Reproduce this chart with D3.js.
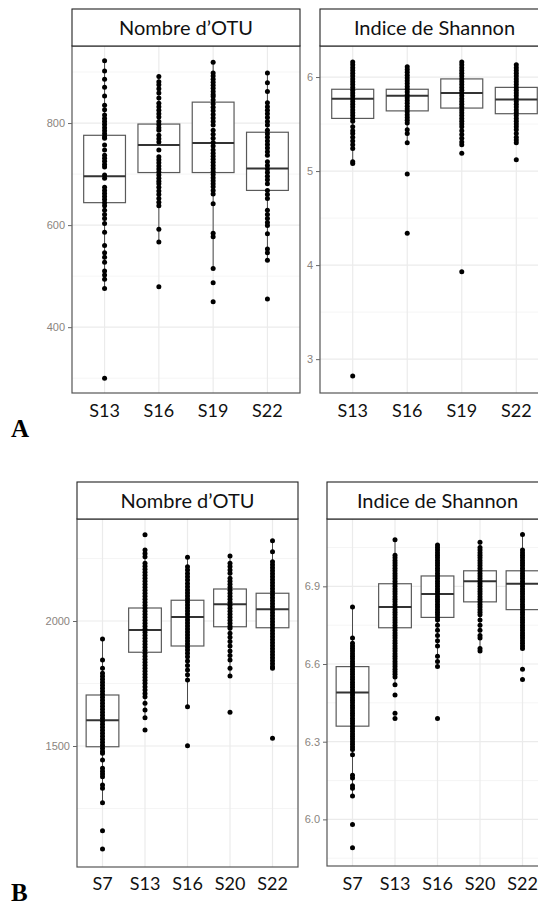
<!DOCTYPE html>
<html><head><meta charset="utf-8">
<script src="https://cdn.jsdelivr.net/npm/d3@7"></script>
<style>body{margin:0;background:#fff}</style>
</head><body>
<svg id="c" width="538" height="908"></svg>
<script>
// ---------- categories & labels ----------
const catsA = ["S13","S16","S19","S22"];
const catsB = ["S7","S13","S16","S20","S22"];
const stripOTU = "Nombre d’OTU";
const stripShannon = "Indice de Shannon";
const panelLetters = ["A","B"];

// ---------- A : Nombre d'OTU ----------
const otuA_ticks = [400,600,800];
const otuA_minor = [300,500,700,900];
const otuA_S13 = [922,902,886,870,853,835,826,816,809,803,797,791,785,779,773,770,757,747,737,731,725,719,714,698,692,674,668,662,656,650,644,638,629,621,613,603,586,560,546,537,527,510,502,494,476,300];
const otuA_S16 = [891,881,875,867,859,849,839,832,825,818,812,803,797,791,786,776,769,763,747,734,728,722,716,710,704,698,692,686,681,674,667,660,652,645,638,592,567,479];
const otuA_S19 = [919,898,892,886,880,874,868,862,856,852,845,838,831,824,817,810,803,796,786,778,770,762,755,747,741,735,729,723,717,711,705,699,693,687,681,675,668,661,642,584,577,515,487,450];
const otuA_S22 = [898,879,862,840,832,825,818,811,803,796,786,779,772,765,758,751,744,737,724,717,710,703,696,689,681,668,660,652,629,621,613,605,599,583,553,546,531,455];
const otuA_lo  = [476,567,515,531];
const otuA_q1  = [644,703,703,668];
const otuA_med = [696,757,761,711];
const otuA_q3  = [776,798,841,782];
const otuA_hi  = [922,891,919,898];

// ---------- A : Indice de Shannon ----------
const shA_ticks = [3,4,5,6];
const shA_minor = [3.5,4.5,5.5];
const shA_S13 = [6.16,6.13,6.10,6.07,6.04,6.01,5.98,5.95,5.92,5.89,5.86,5.83,5.80,5.77,5.74,5.71,5.68,5.65,5.62,5.59,5.56,5.53,5.47,5.43,5.40,5.36,5.32,5.28,5.24,5.10,5.08,2.82];
const shA_S16 = [6.11,6.08,6.05,6.02,5.99,5.96,5.93,5.90,5.87,5.84,5.81,5.78,5.75,5.72,5.69,5.66,5.63,5.60,5.57,5.54,5.51,5.44,5.40,5.30,4.97,4.34];
const shA_S19 = [6.16,6.13,6.10,6.07,6.04,6.01,5.98,5.95,5.92,5.89,5.86,5.83,5.80,5.77,5.74,5.71,5.68,5.65,5.62,5.59,5.56,5.53,5.50,5.47,5.43,5.39,5.35,5.31,5.28,5.19,3.93];
const shA_S22 = [6.13,6.10,6.07,6.04,6.01,5.98,5.95,5.92,5.89,5.86,5.83,5.80,5.77,5.74,5.71,5.68,5.65,5.62,5.59,5.56,5.53,5.50,5.47,5.44,5.40,5.36,5.33,5.30,5.12];
const shA_lo  = [5.10,5.30,5.28,5.30];
const shA_q1  = [5.56,5.64,5.67,5.61];
const shA_med = [5.77,5.80,5.83,5.76];
const shA_q3  = [5.87,5.87,5.98,5.89];
const shA_hi  = [6.16,6.11,6.16,6.13];

// ---------- B : Nombre d'OTU ----------
const otuB_ticks = [1500,2000];
const otuB_minor = [1250,1750,2250];
const otuB_S7  = [1928,1844,1811,1791,1779,1767,1755,1743,1731,1719,1707,1695,1683,1671,1659,1647,1635,1623,1611,1599,1587,1575,1563,1551,1539,1527,1515,1503,1491,1479,1471,1444,1411,1399,1388,1377,1344,1331,1273,1161,1088];
const otuB_S13 = [2345,2284,2270,2257,2231,2219,2207,2195,2183,2171,2159,2147,2135,2123,2111,2099,2087,2075,2063,2051,2039,2027,2015,2003,1991,1979,1967,1955,1943,1931,1919,1907,1895,1883,1871,1859,1847,1835,1823,1811,1799,1787,1775,1763,1751,1737,1724,1710,1697,1671,1644,1613,1564];
const otuB_S16 = [2255,2217,2204,2190,2177,2164,2150,2137,2124,2112,2100,2088,2076,2064,2052,2040,2028,2016,2004,1992,1980,1968,1956,1944,1932,1920,1908,1896,1884,1871,1857,1840,1822,1804,1785,1764,1657,1501];
const otuB_S20 = [2260,2231,2218,2204,2191,2171,2159,2147,2135,2123,2111,2099,2087,2075,2063,2051,2039,2027,2015,2003,1991,1979,1971,1951,1935,1918,1900,1880,1862,1844,1811,1780,1635];
const otuB_S22 = [2321,2277,2237,2225,2213,2201,2189,2177,2165,2153,2141,2129,2117,2105,2093,2081,2069,2057,2045,2033,2021,2009,1997,1985,1973,1961,1949,1937,1925,1913,1901,1889,1877,1865,1853,1841,1829,1817,1811,1531];
const otuB_lo  = [1273,1613,1657,1780,1811];
const otuB_q1  = [1497,1875,1900,1977,1973];
const otuB_med = [1603,1964,2016,2067,2047];
const otuB_q3  = [1704,2052,2083,2128,2111];
const otuB_hi  = [1928,2284,2255,2260,2321];

// ---------- B : Indice de Shannon ----------
const shB_ticks = [6.0,6.3,6.6,6.9];
const shB_minor = [5.85,6.15,6.45,6.75,7.05];
const shB_S7  = [6.82,6.70,6.68,6.67,6.66,6.65,6.64,6.63,6.62,6.61,6.60,6.59,6.58,6.57,6.56,6.55,6.54,6.53,6.52,6.51,6.50,6.49,6.48,6.47,6.46,6.45,6.44,6.43,6.42,6.41,6.40,6.39,6.38,6.37,6.36,6.35,6.34,6.33,6.32,6.31,6.30,6.29,6.28,6.27,6.25,6.17,6.16,6.13,6.12,6.09,5.98,5.89];
const shB_S13 = [7.08,7.02,7.01,7.00,6.99,6.98,6.97,6.96,6.95,6.94,6.93,6.92,6.91,6.90,6.89,6.88,6.87,6.86,6.85,6.84,6.83,6.82,6.81,6.80,6.79,6.78,6.77,6.76,6.75,6.74,6.73,6.72,6.71,6.70,6.69,6.68,6.67,6.66,6.65,6.64,6.63,6.62,6.61,6.60,6.59,6.58,6.57,6.56,6.55,6.52,6.48,6.41,6.39];
const shB_S16 = [7.06,7.05,7.04,7.03,7.02,7.01,7.00,6.99,6.98,6.97,6.96,6.95,6.94,6.93,6.92,6.91,6.90,6.89,6.88,6.87,6.86,6.85,6.84,6.83,6.82,6.81,6.80,6.79,6.78,6.77,6.75,6.73,6.71,6.69,6.67,6.63,6.61,6.59,6.39];
const shB_S20 = [7.07,7.05,7.04,7.03,7.02,7.01,7.00,6.99,6.98,6.97,6.96,6.95,6.94,6.93,6.92,6.91,6.90,6.89,6.88,6.87,6.86,6.85,6.84,6.83,6.82,6.81,6.80,6.79,6.77,6.75,6.73,6.71,6.70,6.66,6.65];
const shB_S22 = [7.10,7.04,7.03,7.02,7.01,7.00,6.99,6.98,6.97,6.96,6.95,6.94,6.93,6.92,6.91,6.90,6.89,6.88,6.87,6.86,6.85,6.84,6.83,6.82,6.81,6.80,6.79,6.78,6.77,6.76,6.75,6.74,6.73,6.72,6.71,6.70,6.69,6.68,6.67,6.66,6.58,6.54];
const shB_lo  = [6.09,6.52,6.59,6.65,6.66];
const shB_q1  = [6.36,6.74,6.78,6.84,6.81];
const shB_med = [6.49,6.82,6.87,6.92,6.91];
const shB_q3  = [6.59,6.91,6.94,6.96,6.96];
const shB_hi  = [6.82,7.08,7.06,7.07,7.10];

// ---------- drawing ----------
const svg = d3.select("#c");
svg.append("rect").attr("width",538).attr("height",908).attr("fill","#fff");

function drawPanel(o){
  const g = svg.append("g");
  const x = d3.scalePoint().domain(o.cats).range([o.x0,o.x1]).padding(0.6);
  const y = d3.scaleLinear().domain(o.domain).range([o.y1,o.y0]);
  const bw = x.step()*0.77;

  g.append("rect").attr("x",o.x0).attr("y",o.y0).attr("width",o.x1-o.x0).attr("height",o.y1-o.y0).attr("fill","#fff");
  g.selectAll(".mn").data(o.minor).join("line")
    .attr("x1",o.x0).attr("x2",o.x1).attr("y1",d=>y(d)).attr("y2",d=>y(d))
    .attr("stroke","#f2f2f2").attr("stroke-width",0.8);
  g.selectAll(".mj").data(o.ticks).join("line")
    .attr("x1",o.x0).attr("x2",o.x1).attr("y1",d=>y(d)).attr("y2",d=>y(d))
    .attr("stroke","#ebebeb").attr("stroke-width",1.2);
  g.selectAll(".vx").data(o.cats).join("line")
    .attr("x1",d=>x(d)).attr("x2",d=>x(d)).attr("y1",o.y0).attr("y2",o.y1)
    .attr("stroke","#ebebeb").attr("stroke-width",1.2);

  const stats = o.cats.map((c,i)=>({c,lo:o.lo[i],q1:o.q1[i],med:o.med[i],q3:o.q3[i],hi:o.hi[i]}));
  g.selectAll(".wk").data(stats).join("line")
    .attr("x1",d=>x(d.c)).attr("x2",d=>x(d.c)).attr("y1",d=>y(d.hi)).attr("y2",d=>y(d.lo))
    .attr("stroke","#4a4a4a").attr("stroke-width",1);
  g.selectAll(".bx").data(stats).join("rect")
    .attr("x",d=>x(d.c)-bw/2).attr("width",bw)
    .attr("y",d=>y(d.q3)).attr("height",d=>y(d.q1)-y(d.q3))
    .attr("fill","#fff").attr("stroke","#5a5a5a").attr("stroke-width",1.2);
  g.selectAll(".md").data(stats).join("line")
    .attr("x1",d=>x(d.c)-bw/2).attr("x2",d=>x(d.c)+bw/2)
    .attr("y1",d=>y(d.med)).attr("y2",d=>y(d.med))
    .attr("stroke","#333").attr("stroke-width",2);
  o.cats.forEach((c,i)=>{
    g.append("g").selectAll("circle").data(o.values[i]).join("circle")
      .attr("cx",x(c)).attr("cy",d=>y(d)).attr("r",2.5).attr("fill","#000");
  });
  g.append("rect").attr("x",o.x0).attr("y",o.y0).attr("width",o.x1-o.x0).attr("height",o.y1-o.y0)
    .attr("fill","none").attr("stroke","#555").attr("stroke-width",1.2);
  g.append("rect").attr("x",o.x0).attr("y",o.sy0).attr("width",o.x1-o.x0).attr("height",o.y0-o.sy0)
    .attr("fill","#fff").attr("stroke","#222").attr("stroke-width",1.1);
  g.append("text").attr("x",(o.x0+o.x1)/2).attr("y",o.sBase).attr("text-anchor","middle")
    .attr("font-family","Lato, 'Open Sans', sans-serif").attr("font-size",20).attr("fill","#111").text(o.title);
  const ax = g.append("g").attr("transform",`translate(${o.x0},0)`)
    .call(d3.axisLeft(y).tickValues(o.ticks).tickFormat(o.fmt).tickSize(4).tickPadding(3));
  ax.select(".domain").remove();
  ax.selectAll(".tick line").attr("stroke","#666");
  ax.selectAll("text").attr("font-family","'Liberation Sans', Arial, sans-serif").attr("font-size",11).attr("fill","#8a847e");
  g.selectAll(".xl").data(o.cats).join("text")
    .attr("x",d=>x(d)).attr("y",o.xBase).attr("text-anchor","middle")
    .attr("font-family","Lato, 'Open Sans', sans-serif").attr("font-size",18).attr("fill","#111").text(d=>d);
}

drawPanel({cats:catsA, values:[otuA_S13,otuA_S16,otuA_S19,otuA_S22], lo:otuA_lo,q1:otuA_q1,med:otuA_med,q3:otuA_q3,hi:otuA_hi,
  ticks:otuA_ticks, minor:otuA_minor, fmt:d3.format("d"), domain:[271,951],
  x0:72,x1:300,y0:46,y1:393,sy0:9,sBase:35,xBase:417,title:stripOTU});
drawPanel({cats:catsA, values:[shA_S13,shA_S16,shA_S19,shA_S22], lo:shA_lo,q1:shA_q1,med:shA_med,q3:shA_q3,hi:shA_hi,
  ticks:shA_ticks, minor:shA_minor, fmt:d3.format("d"), domain:[2.64,6.33],
  x0:320,x1:549,y0:46,y1:393,sy0:9,sBase:35,xBase:417,title:stripShannon});
drawPanel({cats:catsB, values:[otuB_S7,otuB_S13,otuB_S16,otuB_S20,otuB_S22], lo:otuB_lo,q1:otuB_q1,med:otuB_med,q3:otuB_q3,hi:otuB_hi,
  ticks:otuB_ticks, minor:otuB_minor, fmt:d3.format("d"), domain:[1016,2408],
  x0:77,x1:298,y0:519,y1:867,sy0:482,sBase:508,xBase:890,title:stripOTU});
drawPanel({cats:catsB, values:[shB_S7,shB_S13,shB_S16,shB_S20,shB_S22], lo:shB_lo,q1:shB_q1,med:shB_med,q3:shB_q3,hi:shB_hi,
  ticks:shB_ticks, minor:shB_minor, fmt:d3.format(".1f"), domain:[5.82,7.16],
  x0:327,x1:548,y0:519,y1:866,sy0:482,sBase:508,xBase:890,title:stripShannon});

svg.selectAll(".lt").data(panelLetters).join("text")
  .attr("x",11).attr("y",(d,i)=>i===0?437:901)
  .attr("font-family","'Liberation Serif','Times New Roman',serif").attr("font-weight","bold")
  .attr("font-size",25).attr("fill","#000").text(d=>d);
</script>
</body></html>
